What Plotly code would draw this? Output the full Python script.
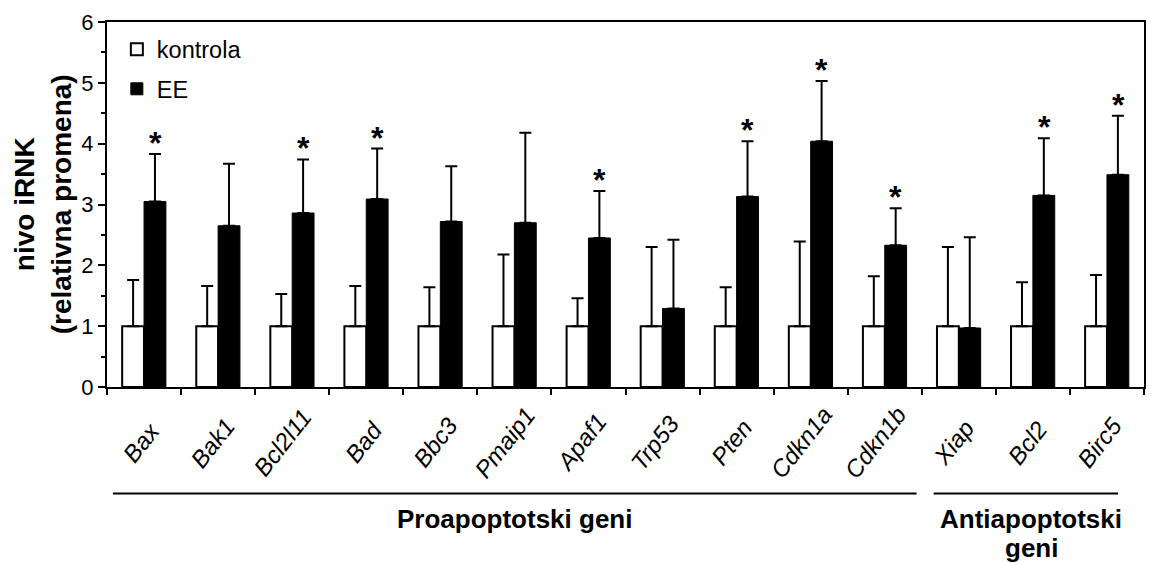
import plotly.graph_objects as go

categories = ["Bax", "Bak1", "Bcl2l11", "Bad", "Bbc3", "Pmaip1", "Apaf1",
              "Trp53", "Pten", "Cdkn1a", "Cdkn1b", "Xiap", "Bcl2", "Birc5"]
kontrola = [1.0, 1.0, 1.0, 1.0, 1.0, 1.0, 1.0, 1.0, 1.0, 1.0, 1.0, 1.0, 1.0, 1.0]
kontrola_sd = [0.76, 0.66, 0.53, 0.66, 0.64, 1.18, 0.46, 1.30, 0.64, 1.39, 0.82, 1.30, 0.72, 0.84]
ee = [3.05, 2.65, 2.86, 3.09, 2.72, 2.70, 2.45, 1.29, 3.13, 4.04, 2.33, 0.97, 3.15, 3.49]
ee_sd = [0.78, 1.02, 0.88, 0.83, 0.91, 1.48, 0.77, 1.13, 0.91, 0.99, 0.61, 1.49, 0.94, 0.97]
significant = [True, False, True, True, False, False, True, False, True, True, True, False, True, True]
y_ticks = [0, 1, 2, 3, 4, 5, 6]

FONT = "Liberation Sans, Arial, sans-serif"

fig = go.Figure()
fig.add_trace(go.Bar(
    name="kontrola", x=categories, y=kontrola, legendgroup="a",
    marker=dict(color="white", line=dict(color="black", width=2)),
    error_y=dict(type="data", symmetric=False, array=kontrola_sd,
                 arrayminus=[0] * len(kontrola_sd),
                 color="black", thickness=2, width=6),
))
fig.add_trace(go.Bar(
    name="EE", x=categories, y=ee, legendgroup="b",
    marker=dict(color="black", line=dict(color="black", width=1)),
    error_y=dict(type="data", symmetric=False, array=ee_sd,
                 arrayminus=[0] * len(ee_sd),
                 color="black", thickness=2, width=6),
))

annotations = []
for i, (cat, v, sd, sig) in enumerate(zip(categories, ee, ee_sd, significant)):
    # category label, rotated about its centre (like the original)
    annotations.append(dict(
        x=i - 0.03 * min(len(cat), 6) + 0.05, y=-0.152, xref="x", yref="paper",
        text=cat, textangle=-52, showarrow=False,
        xanchor="center", yanchor="middle",
        font=dict(family=FONT, size=24, style="italic", color="black"),
    ))
    if sig:
        annotations.append(dict(
            x=i + 0.15, y=v + sd, xref="x", yref="y", text="<b>*</b>",
            showarrow=False, yanchor="bottom", yshift=-9,
            font=dict(family=FONT, size=32, color="black"),
        ))

# y-axis title
annotations.append(dict(
    xref="paper", yref="paper", x=-0.062, y=0.5, textangle=-90,
    text="<b>nivo iRNK<br>(relativna promena)</b>", showarrow=False,
    xanchor="center", yanchor="middle",
    font=dict(family=FONT, size=28, color="black"),
))
# group labels
annotations.append(dict(
    xref="x", yref="paper", x=5.0, y=-0.362, text="<b>Proapoptotski geni</b>",
    showarrow=False, xanchor="center", yanchor="middle",
    font=dict(family=FONT, size=26, color="black"),
))
annotations.append(dict(
    xref="x", yref="paper", x=11.98, y=-0.362, text="<b>Antiapoptotski</b>",
    showarrow=False, xanchor="center", yanchor="middle",
    font=dict(family=FONT, size=26, color="black"),
))
annotations.append(dict(
    xref="x", yref="paper", x=11.98, y=-0.44, text="<b>geni</b>",
    showarrow=False, xanchor="center", yanchor="middle",
    font=dict(family=FONT, size=26, color="black"),
))

shapes = [
    dict(type="line", xref="x", yref="paper", x0=-0.42, x1=10.43, y0=-0.292, y1=-0.292,
         line=dict(color="black", width=2)),
    dict(type="line", xref="x", yref="paper", x0=10.66, x1=13.15, y0=-0.292, y1=-0.292,
         line=dict(color="black", width=2)),
]

fig.update_layout(
    width=1151, height=563,
    margin=dict(l=107, r=5, t=22, b=176),
    barmode="group", bargap=0.41, bargroupgap=0,
    plot_bgcolor="white", paper_bgcolor="white",
    font=dict(family=FONT, color="black"),
    showlegend=True,
    legend=dict(x=0.0095, y=0.985, xanchor="left", yanchor="top",
                bgcolor="rgba(0,0,0,0)", font=dict(family=FONT, size=23.5),
                traceorder="grouped", tracegroupgap=6, itemwidth=30),
    annotations=annotations,
    shapes=shapes,
)
fig.update_xaxes(
    type="category", tickson="boundaries", ticks="outside", ticklen=6,
    tickwidth=2, tickcolor="black", showline=True, linewidth=2, linecolor="black",
    mirror=True, showgrid=False, showticklabels=False,
)
fig.update_yaxes(
    range=[0, 6], tickvals=y_ticks, ticks="outside", ticklen=7, tickwidth=2,
    tickcolor="black", showline=True, linewidth=2, linecolor="black", mirror=True,
    showgrid=False, zeroline=False,
    tickfont=dict(family=FONT, size=22, color="black"),
    minor=dict(dtick=0.5, ticks="outside", ticklen=4, tickwidth=2, tickcolor="black"),
)

fig.write_html("out.html")
